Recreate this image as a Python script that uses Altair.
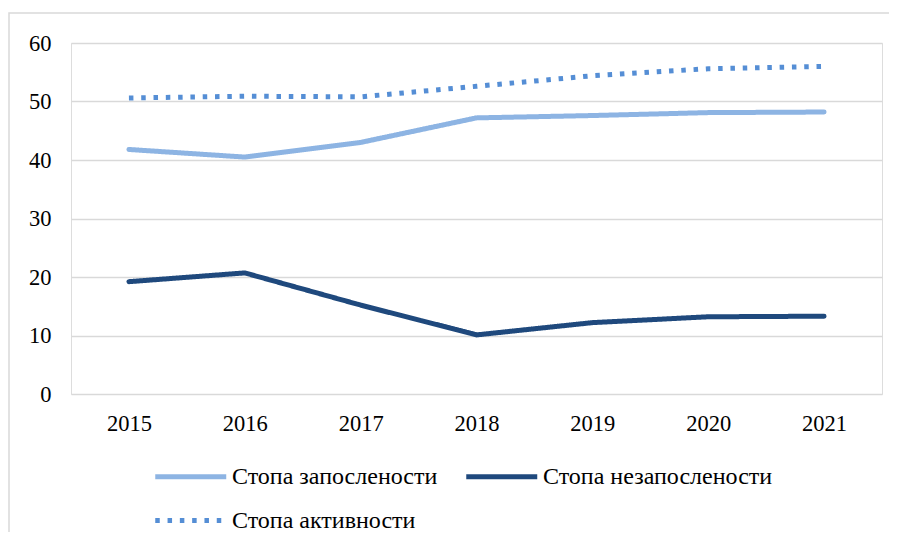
import altair as alt
import pandas as pd

years = ["2015", "2016", "2017", "2018", "2019", "2020", "2021"]
employment = [41.8, 40.5, 43.0, 47.2, 47.6, 48.1, 48.2]
unemployment = [19.2, 20.7, 15.2, 10.1, 12.2, 13.2, 13.3]
activity = [50.6, 50.9, 50.8, 52.6, 54.4, 55.6, 56.0]
series_names = ["Стопа запослености", "Стопа незапослености", "Стопа активности"]
colors = ["#8DB4E3", "#1F497D", "#558ED5"]
dashes = [[1, 0], [1, 0], [4.5, 7.8]]
widths = [5, 5, 4.6]
y_ticks = [0, 10, 20, 30, 40, 50, 60]

FONT = "Liberation Serif"

df = pd.DataFrame({
    "year": years * 3,
    "value": employment + unemployment + activity,
    "series": [s for s in series_names for _ in years],
})

legend = alt.Legend(
    title=None, orient="none", legendX=117, legendY=413, columns=2,
    direction="horizontal",
    columnPadding=18, rowPadding=11, symbolType="M-3,0H1", symbolSize=1260,
    labelOffset=3, labelFont=FONT, labelFontSize=24, labelColor="#000000",
    labelLimit=0, padding=0,
)

x_enc = alt.X("year:O", sort=years, scale=alt.Scale(type="point", padding=0.5),
              axis=alt.Axis(title=None, domain=False, ticks=False, labelAngle=0,
                            labelFont=FONT, labelFontSize=22.5, labelColor="#000000",
                            labelPadding=18, grid=False))
y_enc = alt.Y("value:Q", scale=alt.Scale(domain=[0, 60], nice=False),
              axis=alt.Axis(title=None, values=y_ticks, domain=False, ticks=False,
                            labelFont=FONT, labelFontSize=22.5, labelColor="#000000",
                            labelPadding=20, grid=True, gridColor="#d9d9d9",
                            gridWidth=1.5))
color_enc = alt.Color("series:N", scale=alt.Scale(domain=series_names, range=colors), legend=legend)
dash_enc = alt.StrokeDash("series:N", scale=alt.Scale(domain=series_names, range=dashes), legend=legend)
width_enc = alt.StrokeWidth("series:N", scale=alt.Scale(domain=series_names, range=widths), legend=legend)

base = alt.Chart(df).encode(x=x_enc, y=y_enc, color=color_enc,
                            strokeDash=dash_enc, strokeWidth=width_enc,
                            order=alt.Order("year:O"))

solid = base.transform_filter(alt.datum.series != series_names[2]).mark_line(strokeCap="round", strokeJoin="round")
dotted = base.transform_filter(alt.datum.series == series_names[2]).mark_line(strokeCap="butt")

frame = alt.Chart(alt.Data(values=[{}])).mark_rect(
    fillOpacity=0, stroke="#d9d9d9", strokeWidth=1.5
).encode(x=alt.value(-62), x2=alt.value(840), y=alt.value(-30), y2=alt.value(520))

chart = alt.layer(frame, solid, dotted).properties(
    width=811, height=351,
    autosize=alt.AutoSizeParams(type="none"),
    padding={"left": 63, "top": 35, "right": 7, "bottom": 138},
).configure_view(stroke=None).configure(background="#ffffff", font=FONT)

chart.save("out.html", embed_options={"renderer": "svg", "actions": False})
